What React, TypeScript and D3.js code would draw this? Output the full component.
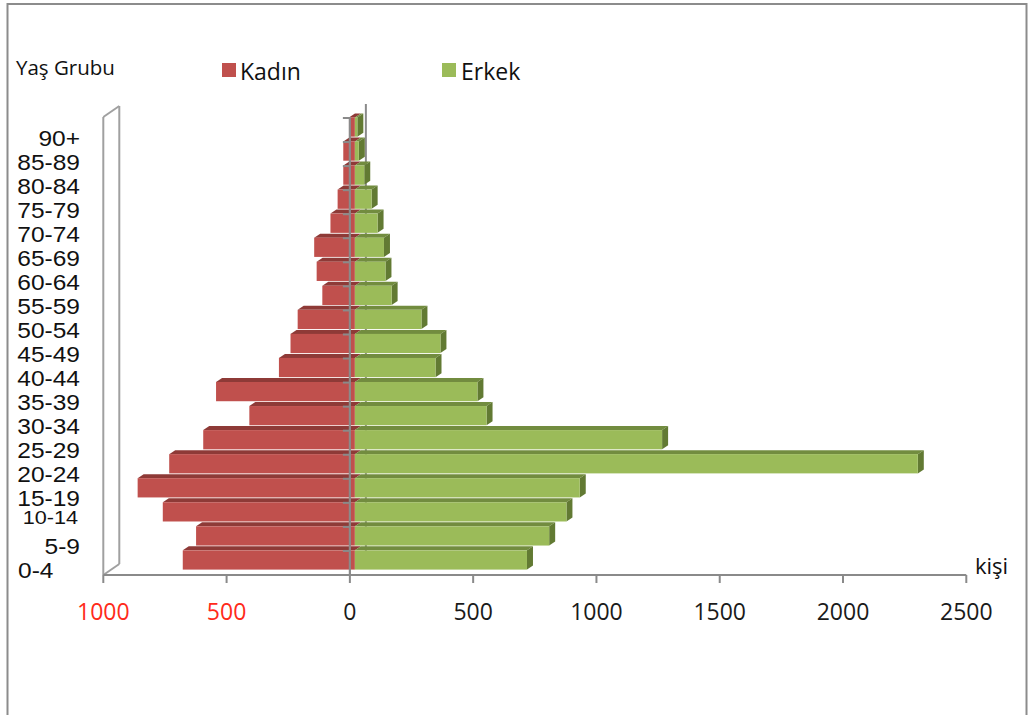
import React from "react";
import * as d3 from "d3";

const ageGroups = ["0-4", "5-9", "10-14", "15-19", "20-24", "25-29", "30-34", "35-39", "40-44", "45-49", "50-54", "55-59", "60-64", "65-69", "70-74", "75-79", "80-84", "85-89", "90+"];
const kadin = [698, 644, 779, 881, 753, 615, 428, 563, 308, 261, 232, 132, 155, 165, 99, 70, 47, 47, 24];
const erkek = [698, 788, 858, 912, 2283, 1246, 534, 497, 327, 347, 270, 149, 124, 118, 92, 68, 38, 16, 10];
const xTicks = [-1000, -500, 0, 500, 1000, 1500, 2000, 2500];

const W = 1031;
const H = 715;
const AXIS_Y = 575;
const TOP_Y = 118;
const FX = 5, FY = -3; // bar front plane offset
const DX = 6, DY = -4; // bar depth
const WALL_DX = 16, WALL_DY = -11;

const RED = "#C0504D", RED_TOP = "#8E3A37";
const GREEN = "#9BBB59", GREEN_TOP = "#728C3F", GREEN_SIDE = "#627A33";
const AXIS = "#8A8A8A";

export default function App() {
  const x = d3.scaleLinear().domain([-1000, 2500]).range([103.3, 966.3]);
  const y = d3.scaleBand<string>().domain(ageGroups).range([AXIS_Y, TOP_Y]).paddingInner(0.2).paddingOuter(0.1);
  const bw = y.bandwidth();
  const step = y.step();
  const calibri = "'Open Sans', sans-serif";
  const arial = "'Liberation Sans', Arial, sans-serif";

  const rows = ageGroups.map((a, i) => i).reverse();

  const poly = (pts: number[][]) => pts.map((p) => p.join(",")).join(" ");

  return (
    <svg width={W} height={H} style={{ position: "absolute", left: 0, top: 0, background: "#fff" }}>
      {/* frame */}
      <rect x={7.5} y={4} width={1019} height={740} fill="none" stroke="#8C8C8C" strokeWidth={2} />

      {/* left wall */}
      <g stroke="#A0A0A0" strokeWidth={2} fill="none">
        <line x1={x(-1000)} y1={TOP_Y - 1} x2={x(-1000)} y2={AXIS_Y} />
        <line x1={x(-1000) + WALL_DX} y1={TOP_Y - 1 + WALL_DY} x2={x(-1000) + WALL_DX} y2={AXIS_Y + WALL_DY} />
        <line x1={x(-1000)} y1={TOP_Y - 1} x2={x(-1000) + WALL_DX} y2={TOP_Y - 1 + WALL_DY} />
        <line x1={x(-1000)} y1={AXIS_Y} x2={x(-1000) + WALL_DX} y2={AXIS_Y + WALL_DY} />
      </g>

      {/* back vertical axis line */}
      <line x1={x(0) + WALL_DX} y1={TOP_Y - 1 + WALL_DY - 2} x2={x(0) + WALL_DX} y2={AXIS_Y + WALL_DY} stroke={AXIS} strokeWidth={2} />

      {/* bars */}
      {rows.map((i) => {
        const a = ageGroups[i];
        const yt = (y(a) as number) + FY;
        const rl = x(-kadin[i]) + FX;
        const rr = x(0) + FX;
        const gl = x(0) + FX;
        const gr = x(erkek[i]) + FX;
        return (
          <g key={a}>
            <polygon points={poly([[rl, yt], [rl + DX, yt + DY], [rr + DX, yt + DY], [rr, yt]])} fill={RED_TOP} />
            <rect x={rl} y={yt} width={rr - rl} height={bw} fill={RED} />
            <polygon points={poly([[gl, yt], [gl + DX, yt + DY], [gr + DX, yt + DY], [gr, yt]])} fill={GREEN_TOP} />
            <polygon points={poly([[gr, yt], [gr + DX, yt + DY], [gr + DX, yt + DY + bw], [gr, yt + bw]])} fill={GREEN_SIDE} />
            <rect x={gl} y={yt} width={gr - gl} height={bw} fill={GREEN} />
          </g>
        );
      })}

      {/* front vertical axis */}
      <line x1={x(0)} y1={TOP_Y - 1} x2={x(0)} y2={AXIS_Y} stroke={AXIS} strokeWidth={2.2} />
      {d3.range(ageGroups.length + 1).map((k) => (
        <line key={k} x1={x(0) - 7} x2={x(0)} y1={AXIS_Y - k * step} y2={AXIS_Y - k * step} stroke={AXIS} strokeWidth={2} />
      ))}

      {/* x axis */}
      <line x1={x(-1000)} x2={x(2500)} y1={AXIS_Y} y2={AXIS_Y} stroke={AXIS} strokeWidth={2} />
      {xTicks.map((t) => (
        <g key={t}>
          <line x1={x(t)} x2={x(t)} y1={AXIS_Y} y2={AXIS_Y + 8} stroke={AXIS} strokeWidth={2} />
          <text x={x(t)} y={619.5} textAnchor="middle" fontFamily={calibri} fontSize={23} fill={t < 0 ? "#FF2A1A" : "#1A1A1A"}>
            {Math.abs(t)}
          </text>
        </g>
      ))}

      {/* category labels */}
      {ageGroups.map((a, i) => {
        const cy = (y(a) as number) + bw / 2;
        const small = a === "10-14";
        const first = i === 0;
        const tx = first ? 18 : small ? 78 : 80;
        const ty = small ? cy + 9.5 : cy + 15.5;
        return (
          <text
            key={a}
            transform={`translate(${tx},${ty}) scale(1.14,1)`}
            textAnchor={first ? "start" : "end"}
            fontFamily={arial}
            fontSize={small ? 19 : 21.5}
            fill="#111"
          >
            {a}
          </text>
        );
      })}

      {/* titles & legend */}
      <text x={16} y={75} fontFamily={calibri} fontSize={20.5} fill="#111">Yaş Grubu</text>
      <rect x={222} y={63} width={14} height={14} fill={RED} />
      <text x={240} y={80} fontFamily={calibri} fontSize={23} fill="#111">Kadın</text>
      <rect x={442} y={63} width={14} height={14} fill={GREEN} />
      <text x={461} y={80} fontFamily={calibri} fontSize={23} fill="#111">Erkek</text>
      <text x={975} y={574} fontFamily={calibri} fontSize={22} fill="#111">kişi</text>
    </svg>
  );
}
